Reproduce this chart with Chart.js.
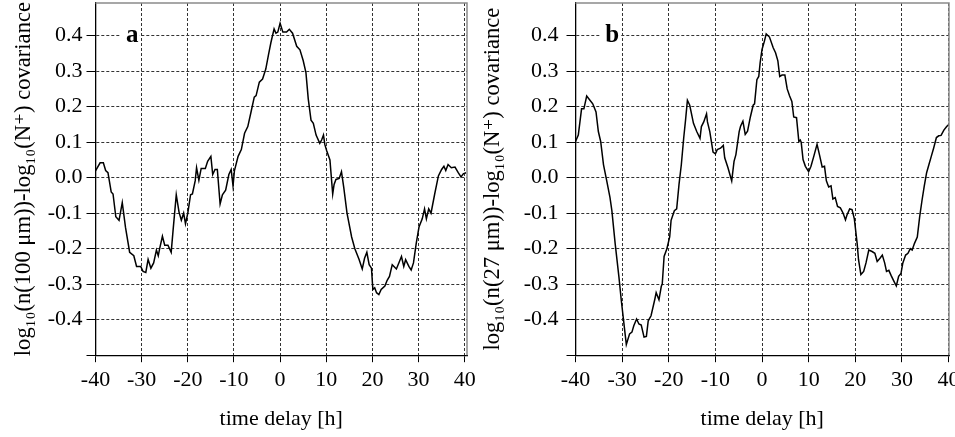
<!DOCTYPE html>
<html>
<head>
<meta charset="utf-8">
<script src="https://cdn.jsdelivr.net/npm/chart.js@4"></script>
<style>
  html, body { margin: 0; padding: 0; background: #fff; overflow: hidden; }
  #wrap { position: relative; width: 955px; height: 437px; overflow: hidden; }
  #chartA { position: absolute; left: 0; top: 0; }
  #chartB { position: absolute; left: 477px; top: 0; }
</style>
</head>
<body>
<div id="wrap">
  <canvas id="chartA" width="477" height="437"></canvas>
  <canvas id="chartB" width="490" height="437"></canvas>
</div>
<script>
// time delay [h] and covariance, panel a (100 um)
const delayA = [-40, -39.0, -38.3, -37.8, -37.3, -36.6, -36.2, -35.6, -34.9, -34.2, -33.5, -32.6, -31.7, -31.1, -30.2,
  -29.7, -29.1, -28.6, -28.0, -27.4, -26.8, -26.4, -26.1, -25.5, -25.0, -24.3, -23.6, -23.2, -22.5, -21.9, -21.4,
  -20.9, -20.5, -20.0, -19.4, -19.0, -18.4, -18.1, -17.6, -17.1, -16.2, -15.7, -15.0, -14.6, -14.1, -13.6, -13.0,
  -12.5, -11.8, -11.1, -10.6, -10.2, -9.9, -9.1, -8.4, -7.7, -7.0, -6.3, -5.6, -5.2, -4.5, -3.8, -3.1, -2.5, -2.0,
  -1.3, -0.9, -0.5, 0.0, 0.6, 1.4, 2.0, 2.7, 3.6, 4.3, 5.0, 5.6, 6.1, 6.7, 7.2, 7.8, 8.6, 9.0, 9.4, 9.7, 10.1,
  10.8, 11.4, 11.7, 12.1, 12.8, 13.3, 13.8, 14.5, 15.5, 16.2, 17.1, 17.8, 18.3, 18.8, 19.3, 19.8, 20.1, 20.5,
  20.9, 21.4, 21.9, 22.7, 23.2, 23.7, 24.3, 25.2, 26.3, 26.8, 27.2, 27.9, 28.4, 28.9, 29.5, 30.1, 30.8, 31.3,
  31.7, 32.2, 32.7, 33.5, 34.3, 35.0, 35.5, 35.9, 36.4, 37.1, 37.9, 38.6, 39.2, 39.7, 40.3];
const covA = [0.019, 0.042, 0.042, 0.020, 0.014, -0.040, -0.046, -0.110, -0.120, -0.070, -0.140, -0.210, -0.220, -0.250, -0.250,
  -0.264, -0.267, -0.230, -0.255, -0.240, -0.204, -0.220, -0.200, -0.165, -0.190, -0.190, -0.210, -0.150, -0.048, -0.097, -0.120,
  -0.100, -0.130, -0.100, -0.048, -0.046, -0.009, 0.028, -0.007, 0.026, 0.026, 0.046, 0.060, 0.009, 0.023, 0.023, -0.074,
  -0.048, -0.035, 0.009, 0.023, -0.023, 0.019, 0.060, 0.079, 0.125, 0.144, 0.185, 0.227, 0.231, 0.269, 0.278, 0.306, 0.347, 0.380,
  0.419, 0.407, 0.410, 0.435, 0.410, 0.410, 0.418, 0.407, 0.370, 0.360, 0.330, 0.296, 0.222, 0.162, 0.153, 0.120, 0.097, 0.106, 0.120, 0.093, 0.076,
  0.050, -0.046, -0.019, -0.005, -0.002, 0.017, -0.028, -0.100, -0.167, -0.200, -0.230, -0.257, -0.227, -0.210, -0.245, -0.255, -0.315, -0.310,
  -0.324, -0.329, -0.315, -0.305, -0.289, -0.278, -0.245, -0.257, -0.222, -0.250, -0.231, -0.250, -0.260, -0.240, -0.185, -0.139, -0.116, -0.088,
  -0.116, -0.088, -0.100, -0.046, 0.005, 0.023, 0.032, 0.020, 0.037, 0.028, 0.030, 0.014, 0.002, 0.011, 0.014];

// panel b (27 um)
const delayB = [-40.0, -39.4, -38.7, -38.2, -37.6, -36.9, -36.3, -35.6, -35.1, -34.6, -34.0, -33.3, -32.6, -32.2, -31.5,
  -30.7, -30.2, -29.65, -29.1, -28.4, -27.9, -27.5, -26.9, -26.4, -25.9, -25.3, -24.8, -24.4, -23.8, -23.0, -22.7,
  -22.1, -21.6, -21.4, -21.0, -20.4, -19.8, -19.5, -18.8, -18.3, -17.8, -17.3, -16.8, -16.4, -16.0, -15.5, -14.7,
  -14.0, -13.3, -13.0, -12.5, -11.9, -11.7, -11.2, -10.5, -10.0, -9.6, -8.9, -8.3, -8.0, -7.3, -6.5, -6.0, -5.6,
  -4.9, -4.6, -4.1, -3.6, -3.1, -2.5, -1.9, -1.6, -1.1, -0.7, -0.4, 0.0, 0.5, 0.9, 1.6, 2.4, 2.9, 3.4, 3.8, 4.3,
  4.9, 5.4, 5.9, 6.4, 6.8, 7.4, 7.9, 8.2, 8.4, 8.8, 9.3, 10.0, 10.5, 11.1, 11.8, 12.4, 12.9, 13.4, 13.8, 14.3,
  14.8, 15.2, 15.7, 16.2, 16.8, 17.4, 17.9, 18.2, 18.8, 19.3, 19.8, 20.4, 20.7, 21.2, 21.8, 22.3, 22.9, 23.6,
  24.2, 24.7, 25.3, 25.8, 26.3, 26.7, 27.2, 27.7, 28.3, 28.8, 29.3, 29.8, 30.2, 30.8, 31.3, 31.8, 32.2, 32.7,
  33.3, 33.8, 34.3, 34.8, 35.3, 35.8, 36.3, 36.8, 37.4, 37.9, 38.4, 39.0, 39.6, 40.1];
const covB = [0.102, 0.120, 0.194, 0.194, 0.230, 0.218, 0.208, 0.185, 0.130, 0.102, 0.037, -0.009, -0.056, -0.093, -0.185,
  -0.278, -0.343, -0.407, -0.470, -0.440, -0.435, -0.417, -0.398, -0.412, -0.415, -0.449, -0.447, -0.403, -0.389, -0.343, -0.324,
  -0.344, -0.306, -0.300, -0.222, -0.200, -0.167, -0.120, -0.093, -0.088, -0.019, 0.037, 0.111, 0.162, 0.218, 0.204, 0.153,
  0.130, 0.111, 0.144, 0.157, 0.180, 0.157, 0.130, 0.072, 0.067, 0.079, 0.083, 0.091, 0.056, 0.028, -0.009, 0.046, 0.065,
  0.130, 0.145, 0.159, 0.122, 0.131, 0.171, 0.204, 0.208, 0.276, 0.285, 0.324, 0.361, 0.384, 0.405, 0.396, 0.366, 0.352, 0.329, 0.285, 0.289,
  0.289, 0.250, 0.231, 0.215, 0.171, 0.169, 0.102, 0.106, 0.100, 0.051, 0.032, 0.017, 0.032, 0.060, 0.094, 0.060, 0.030, 0.032, -0.009, -0.026,
  -0.023, -0.060, -0.056, -0.081, -0.085, -0.100, -0.119, -0.106, -0.088, -0.090, -0.116, -0.185, -0.231, -0.273, -0.264, -0.240, -0.204, -0.208,
  -0.213, -0.236, -0.227, -0.218, -0.240, -0.264, -0.261, -0.276, -0.292, -0.305, -0.278, -0.270, -0.240, -0.218, -0.213, -0.200, -0.204, -0.185,
  -0.167, -0.111, -0.065, -0.023, 0.014, 0.037, 0.060, 0.083, 0.113, 0.118, 0.119, 0.134, 0.144, 0.150];

const xTicks = [-40, -30, -20, -10, 0, 10, 20, 30, 40];
const xTickLabels = ['-40', '-30', '-20', '-10', '0', '10', '20', '30', '40'];
const yTicks = [-0.5, -0.4, -0.3, -0.2, -0.1, 0, 0.1, 0.2, 0.3, 0.4];
const yTickLabels = ['', '-0.4', '-0.3', '-0.2', '-0.1', '0.0', '0.1', '0.2', '0.3', '0.4'];

const serif = '"Liberation Serif", "DejaVu Serif", serif';

// top + right frame and the panel letter
const panelPlugin = {
    id: 'panel',
    afterDraw(chart) {
        const ctx = chart.ctx;
        const a = chart.chartArea;
        const o = chart.options.plugins.panel;
        ctx.save();
        ctx.strokeStyle = '#8a8a8a';
        ctx.lineWidth = 1.5;
        ctx.beginPath();
        ctx.moveTo(a.left, a.top);
        ctx.lineTo(a.right, a.top);
        ctx.lineTo(a.right, a.bottom);
        ctx.stroke();

        const px = chart.scales.x.getPixelForValue(o.at[0]);
        const py = chart.scales.y.getPixelForValue(o.at[1]);
        ctx.font = 'bold 25px ' + serif;
        const w = ctx.measureText(o.letter).width;
        ctx.fillStyle = '#fff';
        ctx.fillRect(px - 5, py - 4, w + 6, 8);
        ctx.fillStyle = '#000';
        ctx.textBaseline = 'middle';
        ctx.fillText(o.letter, px, py);
        ctx.restore();
    }
};

function makeChart(id, delays, covs, opt) {
    return new Chart(document.getElementById(id), {
        type: 'line',
        data: {
            datasets: [{
                data: delays.map((d, i) => ({x: d, y: covs[i]})),
                borderColor: '#000',
                borderWidth: 1.5,
                pointRadius: 0,
                fill: false,
                tension: 0
            }]
        },
        options: {
            responsive: false,
            animation: false,
            layout: {padding: {left: 0, top: 3, right: opt.padRight, bottom: 0}},
            plugins: {
                legend: {display: false},
                tooltip: {enabled: false},
                panel: {letter: opt.letter, at: opt.letterAt}
            },
            scales: {
                x: {
                    type: 'linear',
                    min: -40,
                    max: opt.xMax,
                    afterBuildTicks: s => { s.ticks = xTicks.map(v => ({value: v})); },
                    afterFit: s => { s.paddingLeft = 0; s.paddingRight = 0; },
                    ticks: {
                        callback: (v, i) => xTickLabels[i],
                        color: '#000',
                        padding: 5,
                        maxRotation: 0,
                        font: {family: serif, size: 22}
                    },
                    grid: {color: '#333', lineWidth: 1, tickLength: 7, tickColor: '#000', tickBorderDash: []},
                    border: {display: true, color: '#000', width: 1.3, dash: [3, 2]},
                    title: {
                        display: true,
                        text: 'time delay [h]',
                        color: '#000',
                        padding: {top: 7, bottom: 5},
                        font: {family: serif, size: 22}
                    }
                },
                y: {
                    min: -0.5,
                    max: 0.492,
                    afterBuildTicks: s => { s.ticks = yTicks.map(v => ({value: v})); },
                    afterFit: s => { s.width = opt.yWidth; s.paddingTop = 0; s.paddingBottom = 0; },
                    ticks: {
                        callback: (v, i) => yTickLabels[i],
                        color: '#000',
                        padding: opt.yTickPad,
                        font: {family: serif, size: 22}
                    },
                    grid: {color: '#333', lineWidth: 1, tickLength: 9, tickColor: '#000', tickBorderDash: []},
                    border: {display: true, color: '#000', width: 1.3, dash: [3, 2]},
                    title: {
                        display: true,
                        text: opt.yTitle,
                        color: '#000',
                        padding: {top: opt.yTitlePad, bottom: 0},
                        font: {family: serif, size: 22.6}
                    }
                }
            }
        },
        plugins: [panelPlugin]
    });
}

makeChart('chartA', delayA, covA, {
    xMax: 40.5, padRight: 10, yWidth: 95.5, yTickPad: 4, yTitlePad: 11,
    letter: 'a', letterAt: [-33.4, 0.4],
    yTitle: 'log\u2081\u2080(n(100 \u03bcm))-log\u2081\u2080(N\u207a) covariance'
});
makeChart('chartB', delayB, covB, {
    xMax: 40.1, padRight: 18, yWidth: 98.5, yTickPad: 8, yTitlePad: 3,
    letter: 'b', letterAt: [-33.6, 0.4],
    yTitle: 'log\u2081\u2080(n(27 \u03bcm))-log\u2081\u2080(N\u207a) covariance'
});
</script>
</body>
</html>
